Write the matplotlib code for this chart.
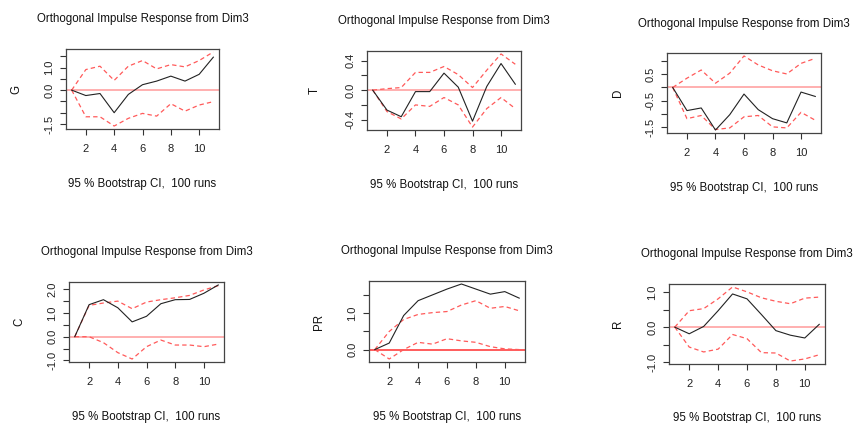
import numpy as np
import matplotlib
matplotlib.use('Agg')
import matplotlib.pyplot as plt

plt.rcParams['font.family'] = ['Liberation Sans', 'DejaVu Sans']

W, H = 856, 423

# horizon 1..11
lags = list(range(1, 12))

# G
g_irf = [0, -0.24, -0.15, -1.00, -0.19, 0.24, 0.40, 0.62, 0.40, 0.70, 1.46]
g_up = [0, 0.91, 1.06, 0.43, 1.06, 1.31, 0.94, 1.13, 1.03, 1.31, 1.69]
g_lo = [0, -1.18, -1.18, -1.59, -1.25, -1.03, -1.15, -0.60, -0.93, -0.66, -0.51]

# T
t_irf = [0, -0.27, -0.36, -0.02, -0.02, 0.23, 0.04, -0.42, 0.05, 0.36, 0.08]
t_up = [0, 0.02, 0.035, 0.24, 0.24, 0.32, 0.21, 0.035, 0.27, 0.49, 0.35]
t_lo = [0, -0.29, -0.39, -0.20, -0.22, -0.10, -0.20, -0.50, -0.25, -0.10, -0.25]

# D
d_irf = [0, -0.875, -0.775, -1.61, -1.03, -0.25, -0.84, -1.18, -1.34, -0.175, -0.34]
d_up = [0, 0.35, 0.66, 0.16, 0.54, 1.19, 0.85, 0.63, 0.51, 0.91, 1.10]
d_lo = [0, -1.18, -1.06, -1.59, -1.53, -1.11, -1.06, -1.49, -1.53, -0.94, -1.24]

# C
c_irf = [0, 1.35, 1.56, 1.22, 0.625, 0.86, 1.39, 1.56, 1.57, 1.83, 2.18]
c_up = [0, 1.32, 1.42, 1.50, 1.18, 1.46, 1.56, 1.64, 1.74, 1.97, 2.15]
c_lo = [0, 0.0, -0.25, -0.67, -0.94, -0.42, -0.14, -0.35, -0.35, -0.42, -0.31]

# PR
pr_irf = [0, 0.18, 0.94, 1.35, 1.51, 1.67, 1.81, 1.67, 1.53, 1.60, 1.42]
pr_up = [0, 0.50, 0.83, 0.97, 1.02, 1.05, 1.23, 1.35, 1.14, 1.19, 1.07]
pr_lo = [0, -0.26, 0.0, 0.20, 0.15, 0.30, 0.24, 0.20, 0.08, 0.02, 0.0]

# R
r_irf = [0, -0.19, 0.02, 0.47, 0.95, 0.81, 0.36, -0.10, -0.23, -0.31, 0.08]
r_up = [0, 0.47, 0.53, 0.81, 1.15, 1.01, 0.84, 0.74, 0.67, 0.83, 0.86]
r_lo = [0, -0.57, -0.71, -0.63, -0.21, -0.33, -0.73, -0.74, -0.97, -0.91, -0.79]

x_ticks = [2, 4, 6, 8, 10]

panels = [
    # name, irf, upper, lower, yticks, labelled ticks, box px (x0, y0, x1, y1), title y, sub y, ylab x
    ('G', g_irf, g_up, g_lo, [-1.5, -1, -0.5, 0, 0.5, 1, 1.5], [-1.5, 0, 1], (66, 49, 219, 129), 19, 184, 16),
    ('T', t_irf, t_up, t_lo, [-0.4, -0.2, 0, 0.2, 0.4], [-0.4, 0, 0.4], (367, 51, 521, 130), 21, 185, 315),
    ('D', d_irf, d_up, d_lo, [-1.5, -1, -0.5, 0, 0.5, 1], [-1.5, -0.5, 0.5], (667, 53, 821, 133), 24, 188, 618),
    ('C', c_irf, c_up, c_lo, [-1, -0.5, 0, 0.5, 1, 1.5, 2], [-1, 0, 1, 2], (69, 282, 224, 362), 252, 417, 19),
    ('PR', pr_irf, pr_up, pr_lo, [0, 0.5, 1, 1.5], [0, 1], (369, 281, 525, 362), 251, 417, 319),
    ('R', r_irf, r_up, r_lo, [-1, -0.5, 0, 0.5, 1], [-1, 0, 1], (669, 284, 825, 364), 254, 417.5, 618),
]

fig = plt.figure(figsize=(W / 100, H / 100), dpi=100)

for name, irf, up, lo, yt, ylab_t, box, ty, sy, lx in panels:
    x0, y0, x1, y1 = box
    ax = fig.add_axes([x0 / W, 1 - y1 / H, (x1 - x0) / W, (y1 - y0) / H])
    zero_col = '#ff3030' if name == 'PR' else '#ff9a9a'
    ax.axhline(0, color=zero_col, lw=1.1, zorder=1)
    ax.plot(lags, irf, color='#222222', lw=0.8, zorder=3)
    ax.plot(lags, up, color='#ff5a5a', lw=0.9, ls=(0, (3.5, 2.5)), zorder=2)
    ax.plot(lags, lo, color='#ff5a5a', lw=0.9, ls=(0, (3.5, 2.5)), zorder=2)
    ax.margins(x=0.04, y=0.04)
    ax.set_xticks(x_ticks)
    ax.set_xticklabels([str(v) for v in x_ticks])
    ax.set_yticks(yt)
    ax.set_yticklabels(['%.1f' % v if v in ylab_t else '' for v in yt],
                       rotation=90, va='center')
    ax.tick_params(axis='both', direction='out', length=4.5, width=0.8,
                   labelsize=8, color='#333333', labelcolor='#222222')
    ax.tick_params(axis='x', pad=6)
    ax.tick_params(axis='y', pad=4)
    for sp in ax.spines.values():
        sp.set_color('#444444')
        sp.set_linewidth(0.9)
    cx = (x0 + x1) / 2
    fig.text(cx / W, 1 - ty / H, 'Orthogonal Impulse Response from Dim3',
             ha='center', va='center', fontsize=8.3, color='#111111')
    fig.text(cx / W, 1 - sy / H, '95 % Bootstrap CI,  100 runs',
             ha='center', va='center', fontsize=8.3, color='#111111')
    fig.text(lx / W, 1 - ((y0 + y1) / 2) / H, name, rotation=90,
             ha='center', va='center', fontsize=8.3, color='#111111')

fig.savefig('out.png', dpi=100)
